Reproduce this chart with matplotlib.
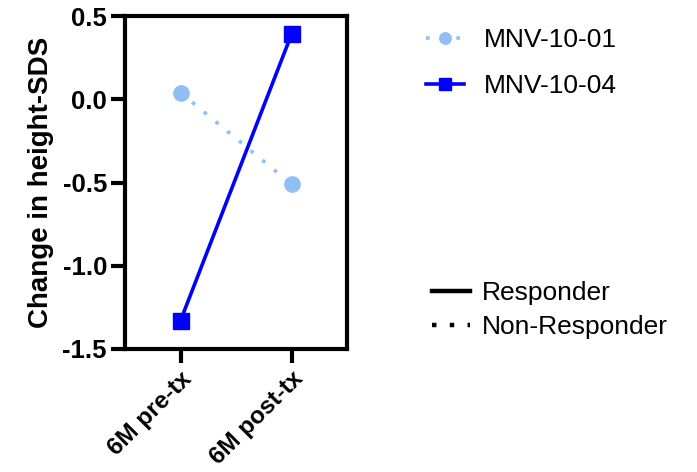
import matplotlib
matplotlib.use("Agg")
import matplotlib.pyplot as plt
from matplotlib.lines import Line2D

plt.rcParams["font.family"] = ["Liberation Sans", "DejaVu Sans"]

timepoints = ["6M pre-tx", "6M post-tx"]
mnv_10_01 = [0.04, -0.51]   # non-responder
mnv_10_04 = [-1.33, 0.39]   # responder
y_ticks = [-1.5, -1.0, -0.5, 0.0, 0.5]

LIGHT, BLUE = "#91bff5", "#0000ff"

fig = plt.figure(figsize=(6.97, 4.72), dpi=100)
ax = fig.add_axes([125 / 697, 1 - 349 / 472, 222 / 697, 333 / 472])

x = range(len(timepoints))
ax.plot(x, mnv_10_01, ls=(0, (1, 3.2)), lw=2.6, color=LIGHT, marker="o", ms=11,
        label="MNV-10-01")
ax.plot(x, mnv_10_04, ls="-", lw=2.6, color=BLUE, marker="s", ms=11,
        label="MNV-10-04")

ax.set_xlim(-0.5, 1.5)
ax.set_ylim(-1.5, 0.5)
ax.set_yticks(y_ticks)
ax.set_yticklabels([f"{v:.1f}" for v in y_ticks])
ax.set_xticks(list(x))
ax.set_xticklabels(timepoints, rotation=45, ha="right", rotation_mode="anchor")
for s in ax.spines.values():
    s.set_linewidth(3)
ax.tick_params(width=3, length=10, labelsize=18.5, pad=3)
ax.tick_params(axis="x", labelsize=17.5, pad=3)
for t in ax.get_xticklabels() + ax.get_yticklabels():
    t.set_fontweight("bold")
ax.set_ylabel("Change in height-SDS", fontsize=20, fontweight="bold", labelpad=6)

# subject legend
h1, l1 = ax.get_legend_handles_labels()
fig.legend(h1, l1, loc="upper left", bbox_to_anchor=(402 / 697, 1 - 4 / 472),
           frameon=False, fontsize=19, handlelength=1.45, labelspacing=0.85,
           handletextpad=0.75, markerscale=0.75)
# responder-status legend
h2 = [Line2D([], [], color="black", lw=3.2, ls="-"),
      Line2D([], [], color="black", lw=3.2, ls=(0, (1, 3)))]
fig.legend(h2, ["Responder", "Non-Responder"], loc="upper left",
           bbox_to_anchor=(408 / 697, 1 - 257 / 472), frameon=False, fontsize=19,
           handlelength=1.45, handletextpad=0.45, labelspacing=0.38)

fig.savefig("out.png", dpi=100)
